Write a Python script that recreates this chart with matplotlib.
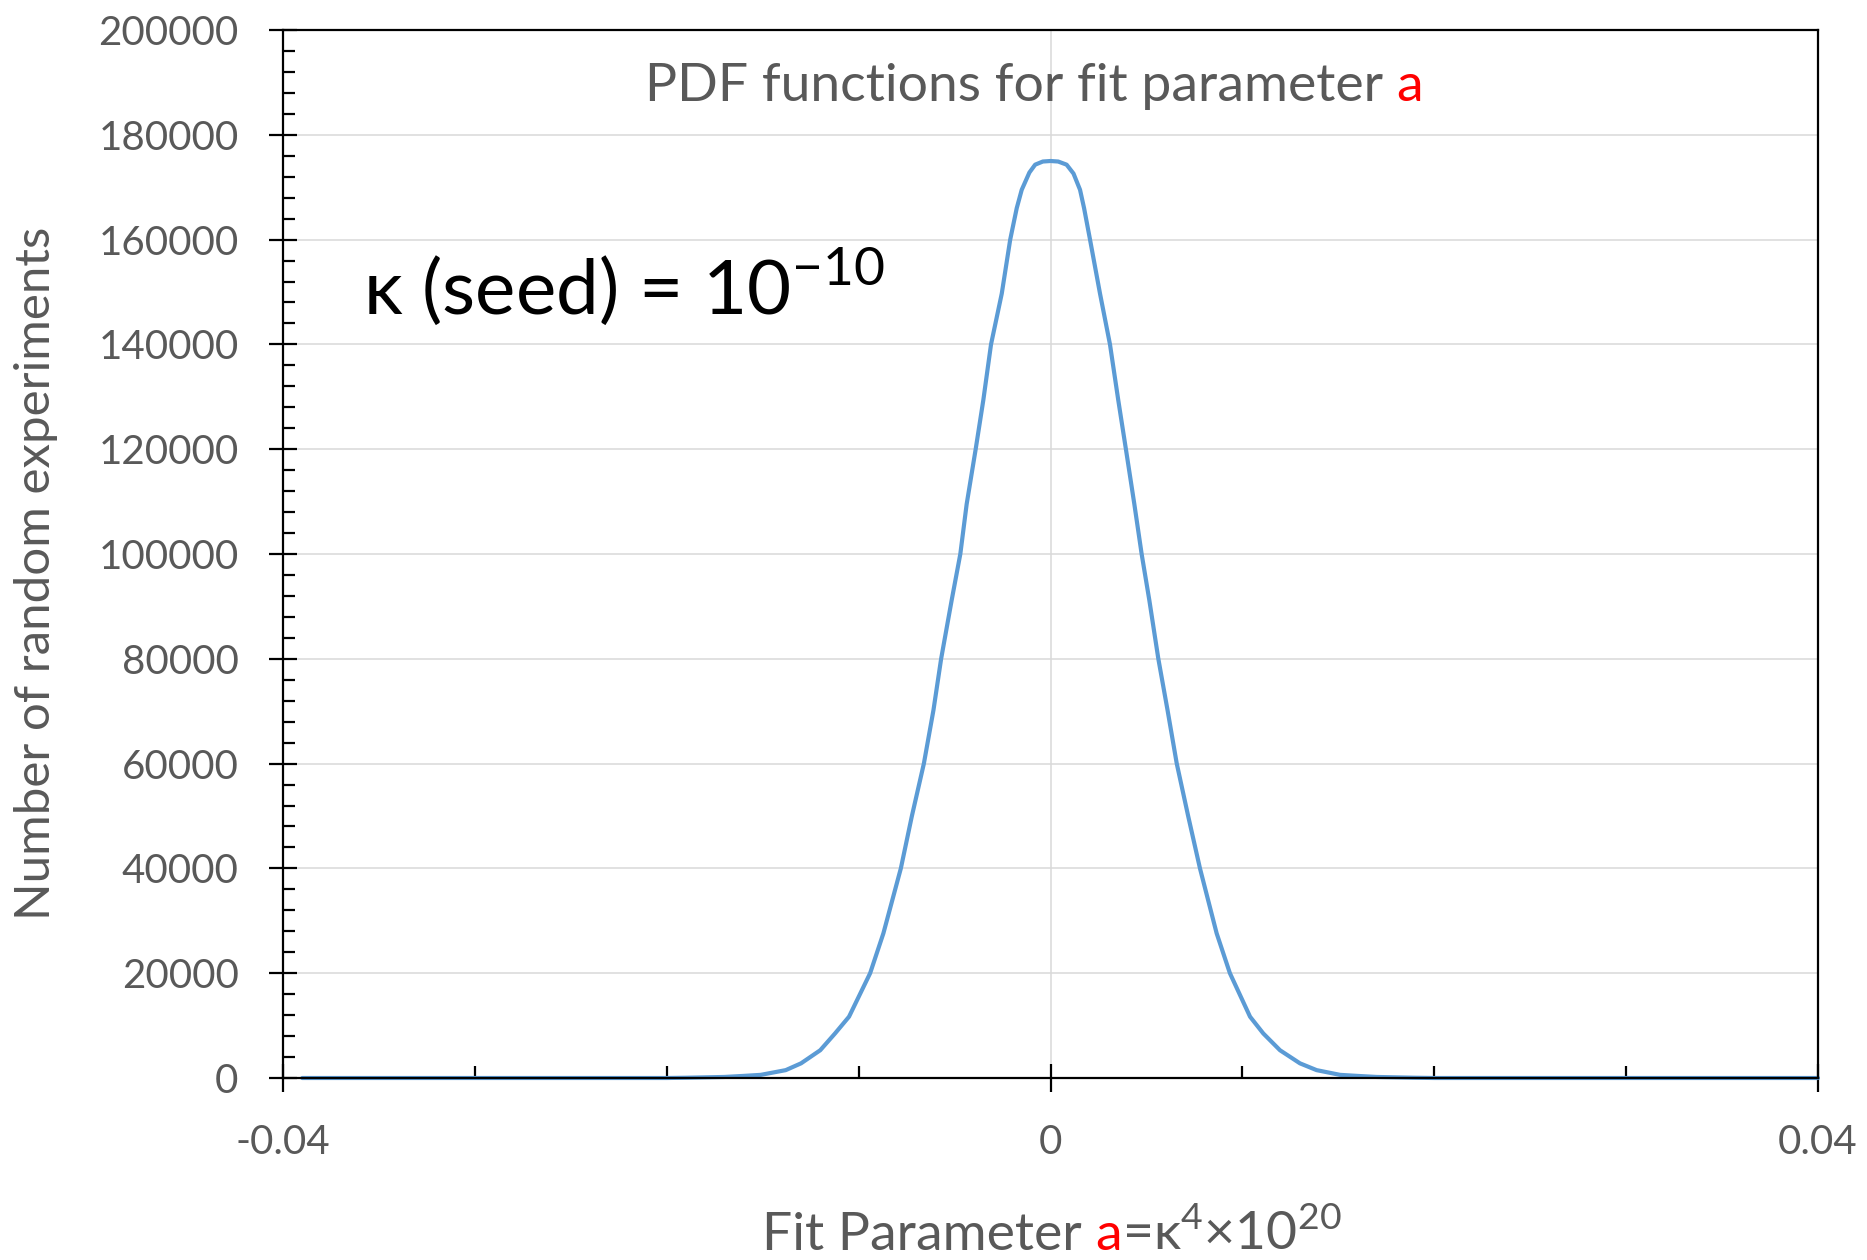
import matplotlib
matplotlib.use("Agg")
import matplotlib.pyplot as plt
from matplotlib.ticker import MultipleLocator, FixedLocator, NullFormatter

# ---- data ----
fit_a = [-0.039, -0.030, -0.020, -0.019, -0.017, -0.016, -0.0151, -0.0138, -0.0130,
         -0.0120, -0.01123, -0.0105, -0.0094, -0.00871, -0.0078, -0.00723, -0.0066,
         -0.0061, -0.0057, -0.00515, -0.0047, -0.00437, -0.0039, -0.0035, -0.0031,
         -0.00254, -0.0021, -0.00176, -0.0015, -0.0011, -0.0008, -0.0004, 0.0,
         0.0004, 0.00084, 0.0012, 0.00154, 0.00175, 0.00206, 0.00258, 0.0031,
         0.00353, 0.00393, 0.00437, 0.00475, 0.00515, 0.00562, 0.0061, 0.00658,
         0.00718, 0.00779, 0.00866, 0.00935, 0.0104, 0.01109, 0.01196, 0.0130,
         0.01387, 0.01509, 0.016, 0.017, 0.019, 0.020, 0.030, 0.040]
counts = [0, 0, 0, 50, 200, 400, 600, 1500, 2800,
          5300, 8500, 11700, 20000, 27600, 40000, 49900, 60000,
          70200, 80000, 91200, 100000, 109500, 120000, 129400, 140000,
          149700, 160000, 166000, 169500, 172800, 174300, 174900, 175000,
          174900, 174300, 172600, 169500, 166000, 160000, 149700, 140000,
          129400, 120000, 109500, 100000, 91200, 80000, 70200, 60000,
          49900, 40000, 27600, 20000, 11700, 8500, 5300, 2800,
          1500, 600, 400, 200, 50, 0, 0, 0]
x_tick_labels = {-0.04: "-0.04", 0.0: "0", 0.04: "0.04"}
y_major = list(range(0, 200001, 20000))

GRAY = "#595959"
FONT = ["Lato", "DejaVu Sans"]
plt.rcParams["font.family"] = FONT
plt.rcParams["mathtext.fontset"] = "custom"
plt.rcParams["mathtext.rm"] = "Lato"

fig = plt.figure(figsize=(18.67, 12.6), dpi=100)
ax = fig.add_axes([283 / 1867, 1 - 1078 / 1260, 1535 / 1867, 1048 / 1260])

ax.plot(fit_a, counts, color="#5B9BD5", lw=3.0, solid_joinstyle="round",
        solid_capstyle="round", zorder=3, clip_on=False)

ax.set_xlim(-0.04, 0.04)
ax.set_ylim(0, 200000)

# grid
for yv in y_major:
    ax.axhline(yv, color="#D9D9D9", lw=1.1, zorder=1)
ax.axvline(0, color="#D9D9D9", lw=1.1, zorder=1)

for s in ax.spines.values():
    s.set_color("black")
    s.set_linewidth(1.6)
    s.set_zorder(4)

# y ticks
ax.yaxis.set_major_locator(FixedLocator(y_major))
ax.yaxis.set_minor_locator(MultipleLocator(4000))
ax.set_yticklabels([str(v) for v in y_major])
ax.tick_params(axis="y", which="major", direction="inout", length=20, width=1.6,
               color="black", labelsize=29, labelcolor=GRAY, pad=22)
ax.tick_params(axis="y", which="minor", direction="in", length=8.5, width=1.6, color="black")

# x ticks
ax.xaxis.set_major_locator(FixedLocator(list(x_tick_labels.keys())))
ax.set_xticklabels(list(x_tick_labels.values()))
ax.xaxis.set_minor_locator(FixedLocator([-0.03, -0.02, -0.01, 0.01, 0.02, 0.03]))
ax.xaxis.set_minor_formatter(NullFormatter())
ax.tick_params(axis="x", which="major", direction="inout", length=20, width=1.6,
               color="black", labelsize=29, labelcolor=GRAY, pad=23)
ax.tick_params(axis="x", which="minor", direction="in", length=8.5, width=1.6, color="black")
ax.tick_params(right=False, top=False, which="both")

fig.canvas.draw()
r = fig.canvas.get_renderer()

# title with red "a"
t1 = fig.text(0, 0, "PDF functions for fit parameter ", fontsize=38.5, color=GRAY)
t2 = fig.text(0, 0, "a", fontsize=38.5, color="red")
w1 = t1.get_window_extent(r).width
w2 = t2.get_window_extent(r).width
x_start = 1034 - (w1 + w2) / 2
for t, off in ((t1, 0), (t2, w1)):
    t.set_position(((x_start + off) / 1867, 1 - 101 / 1260))
    t.set_va("baseline")

# x label with red "a"
xl1 = fig.text(0, 0, "Fit Parameter ", fontsize=38.5, color=GRAY)
xl2 = fig.text(0, 0, "a", fontsize=38.5, color="red")
xl3 = fig.text(0, 0, r"=κ$^{\mathregular{4}}$×10$^{\mathregular{20}}$", fontsize=38.5, color=GRAY,
               family=["Lato", "DejaVu Serif"])
wa = xl1.get_window_extent(r).width
wb = xl2.get_window_extent(r).width
wc = xl3.get_window_extent(r).width
xs = 1052 - (wa + wb + wc) / 2
yb = 1 - 1250 / 1260
for t, off in ((xl1, 0), (xl2, wa), (xl3, wa + wb)):
    t.set_position(((xs + off) / 1867, yb))
    t.set_va("baseline")

# y label
fig.text(36 / 1867, 1 - 573 / 1260, "Number of random experiments", rotation=90,
         fontsize=35.5, color=GRAY, ha="center", va="center")

# annotation
fig.text(363 / 1867, 1 - 315 / 1260, r"κ (seed) = 10$^{\mathregular{−10}}$", fontsize=55,
         color="black", ha="left", va="baseline", family=["Lato", "DejaVu Serif"])

fig.savefig("out.png", dpi=100, facecolor="white")
